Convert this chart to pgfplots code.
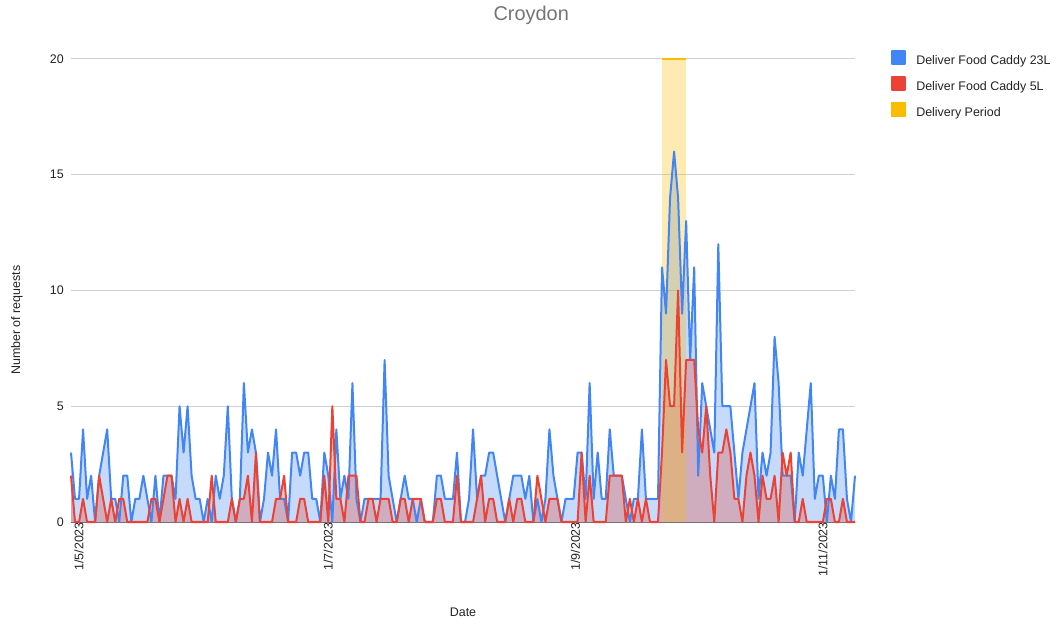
\documentclass[border=0pt]{standalone}
\usepackage{fontspec}
\setmainfont{Liberation Sans}
\usepackage{pgfplots}
\pgfplotsset{compat=1.18}
\usepackage{pgfplotstable}

\definecolor{gblue}{HTML}{4285F4}
\definecolor{gred}{HTML}{EA4335}
\definecolor{gyellow}{HTML}{FBBC04}
\definecolor{gridc}{HTML}{D0D0D0}
\definecolor{txt}{HTML}{222222}
\definecolor{ttl}{HTML}{757575}

% day index (0 = 1/5/2023), caddy 23L, caddy 5L
\pgfplotstableread{
d b r
0 3 2
1 1 0
2 1 0
3 4 1
4 1 0
5 2 0
6 0 0
7 2 2
8 3 1
9 4 0
10 1 1
11 1 0
12 0 1
13 2 1
14 2 0
15 0 0
16 1 0
17 1 0
18 2 0
19 1 0
20 0 1
21 2 1
22 0 0
23 2 1
24 2 2
25 2 2
26 1 0
27 5 1
28 3 0
29 5 1
30 2 0
31 1 0
32 1 0
33 0 0
34 1 0
35 0 2
36 2 0
37 1 0
38 2 0
39 5 0
40 1 1
41 0 0
42 1 1
43 6 1
44 3 2
45 4 0
46 3 3
47 0 0
48 1 0
49 3 0
50 2 0
51 4 1
52 1 1
53 1 2
54 0 0
55 3 0
56 3 0
57 2 1
58 3 1
59 3 0
60 1 0
61 1 0
62 0 0
63 3 2
64 2 0
65 0 5
66 4 1
67 1 1
68 2 0
69 1 2
70 6 2
71 1 2
72 0 0
73 1 0
74 1 1
75 1 1
76 1 0
77 1 1
78 7 1
79 2 1
80 1 0
81 0 0
82 1 1
83 2 1
84 1 0
85 1 1
86 0 1
87 1 1
88 0 0
89 0 0
90 0 0
91 2 1
92 2 1
93 1 0
94 1 0
95 1 0
96 3 2
97 0 0
98 0 0
99 1 0
100 4 0
101 1 1
102 2 2
103 2 0
104 3 1
105 3 1
106 2 0
107 1 0
108 0 0
109 1 1
110 2 0
111 2 1
112 2 1
113 1 0
114 2 0
115 0 0
116 1 2
117 0 1
118 1 0
119 4 1
120 2 1
121 1 1
122 0 0
123 1 0
124 1 0
125 1 0
126 3 0
127 3 3
128 1 0
129 6 2
130 1 0
131 3 0
132 1 0
133 1 0
134 4 2
135 2 2
136 2 2
137 2 2
138 1 0
139 0 1
140 1 0
141 1 1
142 4 0
143 1 1
144 1 0
145 1 0
146 1 0
147 11 3
148 9 7
149 14 5
150 16 5
151 14 10
152 9 3
153 13 7
154 7 7
155 11 7
156 2 4
157 6 3
158 5 5
159 4 2
160 3 0
161 12 3
162 5 3
163 5 4
164 5 3
165 3 1
166 1 1
167 3 0
168 4 2
169 5 3
170 6 2
171 1 0
172 3 2
173 2 1
174 3 1
175 8 2
176 6 0
177 2 3
178 2 2
179 2 3
180 0 0
181 3 0
182 2 1
183 4 0
184 6 0
185 1 0
186 2 0
187 2 0
188 0 1
189 2 1
190 1 0
191 4 0
192 4 1
193 1 0
194 0 0
195 2 0
}\croydon

\begin{document}
\begin{tikzpicture}
\path (0,0) rectangle (1058bp,624bp);
\begin{axis}[
    at={(71bp,102bp)}, anchor=south west,
    scale only axis, width=784bp, height=463bp,
    xmin=0, xmax=195, ymin=0, ymax=20,
    enlargelimits=false, clip=false,
    axis x line*=bottom, axis y line*=left,
    x axis line style={draw=black!55, line width=1bp, -},
    y axis line style={draw=none},
    tick style={draw=none},
    ytick={0,5,10,15,20},
    ymajorgrids, grid style={gridc, line width=1bp},
    xtick={0,62,123.5,185},
    xticklabels={1/5/2023,1/7/2023,1/9/2023,1/11/2023},
    ticklabel style={font=\fontsize{12.5}{15}\selectfont, color=txt},
    /pgf/number format/assume math mode=true,
    yticklabel style={anchor=east, inner sep=0pt, xshift=-7bp},
    xticklabel style={rotate=90, anchor=east, inner sep=0pt, yshift=-8bp},
    title={Croydon},
    every axis title shift=0pt,
    title style={at={(axis description cs:0.587,1.095)}, anchor=center,
        inner sep=0pt, font=\fontsize{20}{24}\selectfont, color=ttl},
    xlabel={Date},
    xlabel style={at={(axis description cs:0.5,-0.194)}, anchor=center,
        font=\fontsize{12.5}{15}\selectfont, color=txt},
    ylabel={Number of requests},
    ylabel style={at={(axis description cs:-0.0689,0.436)}, anchor=center,
        font=\fontsize{12.5}{15}\selectfont, color=txt},
    legend style={at={(axis description cs:1.046,1.019)}, anchor=north west,
        draw=none, fill=none, inner sep=0pt,
        font=\fontsize{12.5}{15}\selectfont, text=txt,
        nodes={inner sep=0pt, text height=9bp, text depth=3bp},
        row sep=9bp,
        /tikz/every odd column/.append style={column sep=10bp}},
    legend cell align=left,
]
% area fills
\addplot[draw=none, fill=gblue, fill opacity=0.3, forget plot]
    table[x=d, y=b]{\croydon} \closedcycle;
\addplot[draw=none, fill=gred, fill opacity=0.3, forget plot]
    table[x=d, y=r]{\croydon} \closedcycle;
\addplot[draw=none, fill=gyellow, fill opacity=0.3, forget plot]
    coordinates {(147,0) (147,20) (153,20) (153,0)} \closedcycle;
% lines
\addplot[gblue, line width=2bp, line join=round,
    legend image code/.code={\fill[gblue] (0bp,-3bp) rectangle (13bp,10bp);}]
    table[x=d, y=b]{\croydon};
\addlegendentry{Deliver Food Caddy 23L}
\addplot[gred, line width=2bp, line join=round,
    legend image code/.code={\fill[gred] (0bp,-3bp) rectangle (13bp,10bp);}]
    table[x=d, y=r]{\croydon};
\addlegendentry{Deliver Food Caddy 5L}
\addplot[gyellow, line width=2bp,
    legend image code/.code={\fill[gyellow] (0bp,-3bp) rectangle (13bp,10bp);}]
    coordinates {(147,20) (153,20)};
\addlegendentry{Delivery Period}
\end{axis}
\end{tikzpicture}
\end{document}
